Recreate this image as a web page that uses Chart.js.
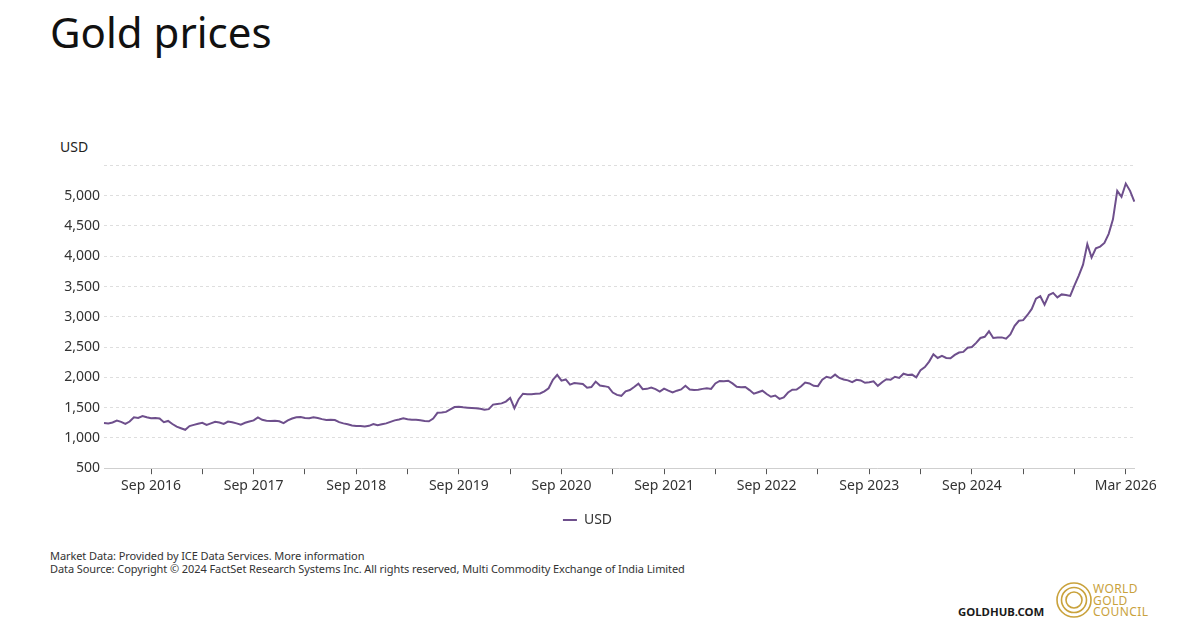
<!DOCTYPE html>
<html>
<head>
<meta charset="utf-8">
<title>Gold prices</title>
<script src="https://cdn.jsdelivr.net/npm/chart.js@4.4.1/dist/chart.umd.min.js"></script>
<style>
  html, body { margin: 0; padding: 0; background: #fff; }
  body { width: 1200px; height: 630px; position: relative; overflow: hidden;
         font-family: "Noto Sans", "Open Sans", sans-serif; color: #222; }
  h1 { position: absolute; left: 50px; top: 3px; margin: 0; font-weight: 400; font-size: 42px; color: #111; }
  #unit { position: absolute; left: 60px; top: 137px; font-size: 14px; color: #222; }
  #wrap { position: absolute; left: 40px; top: 153px; width: 1120px; height: 384px; }
  .note { position: absolute; left: 50px; font-size: 11px; color: #333; letter-spacing: -0.08px; white-space: nowrap; }
  #goldhub { position: absolute; left: 958px; top: 604px; font-size: 11.4px; font-weight: 700; color: #1a1a1a; }
  #wgc { position: absolute; left: 1055px; top: 581px; }
  #wgcText { position: absolute; left: 1093px; top: 583px; font-size: 12px; line-height: 11.5px; color: #c9a23c; letter-spacing: 0.4px; }
</style>
</head>
<body>
<h1>Gold prices</h1>
<div id="unit">USD</div>
<div id="wrap"><canvas id="goldChart"></canvas></div>
<div class="note" style="top:548px">Market Data: Provided by ICE Data Services. More information</div>
<div class="note" style="top:561px">Data Source: Copyright © 2024 FactSet Research Systems Inc. All rights reserved, Multi Commodity Exchange of India Limited</div>
<div id="goldhub">GOLDHUB.COM</div>
<svg id="wgc" width="38" height="38" viewBox="0 0 38 38">
  <g fill="none" stroke="#c9a23c" stroke-width="1.6">
    <circle cx="19" cy="19" r="17"></circle>
    <circle cx="19" cy="19" r="12.5"></circle>
    <circle cx="19" cy="19" r="8"></circle>
  </g>
</svg>
<div id="wgcText">WORLD<br>GOLD<br>COUNCIL</div>
<script>
// semi-monthly USD prices, first point mid-March 2016
const prices2016 = [1245, 1240, 1255, 1285, 1265, 1230, 1270, 1340, 1330, 1360, 1340, 1325, 1330, 1320, 1260, 1280, 1230, 1185, 1160];
const prices2017 = [1135, 1195, 1215, 1235, 1250, 1215, 1240, 1265, 1255, 1230, 1270, 1260, 1240, 1220, 1250, 1270, 1290, 1340, 1300, 1285, 1280, 1285, 1275, 1245];
const prices2018 = [1290, 1320, 1340, 1345, 1330, 1325, 1340, 1330, 1310, 1295, 1300, 1295, 1260, 1240, 1225, 1205, 1195, 1195, 1190, 1200, 1230, 1210, 1225, 1240];
const prices2019 = [1265, 1290, 1305, 1325, 1310, 1300, 1300, 1290, 1280, 1275, 1320, 1415, 1420, 1430, 1470, 1510, 1515, 1505, 1500, 1495, 1490, 1480, 1465, 1475];
const prices2020 = [1550, 1560, 1570, 1600, 1660, 1490, 1640, 1730, 1720, 1720, 1730, 1735, 1770, 1820, 1960, 2040, 1945, 1965, 1880, 1905, 1900, 1890, 1830, 1840];
const prices2021 = [1930, 1865, 1855, 1840, 1750, 1710, 1695, 1770, 1790, 1840, 1895, 1805, 1810, 1830, 1805, 1765, 1815, 1780, 1750, 1780, 1800, 1860, 1800, 1790];
const prices2022 = [1795, 1810, 1820, 1810, 1900, 1940, 1935, 1945, 1900, 1845, 1835, 1840, 1790, 1730, 1755, 1780, 1725, 1680, 1700, 1645, 1670, 1750, 1795, 1800];
const prices2023 = [1850, 1915, 1900, 1860, 1855, 1960, 2010, 1990, 2045, 1990, 1965, 1950, 1920, 1960, 1950, 1910, 1920, 1935, 1860, 1920, 1970, 1960, 2010, 1990];
const prices2024 = [2060, 2040, 2045, 2000, 2120, 2170, 2260, 2380, 2320, 2355, 2320, 2315, 2370, 2410, 2420, 2490, 2500, 2570, 2650, 2670, 2760, 2650, 2660, 2660];
const prices2025 = [2640, 2710, 2850, 2935, 2945, 3030, 3130, 3300, 3340, 3200, 3360, 3395, 3320, 3370, 3360, 3345, 3520, 3680, 3860, 4200, 3980, 4130, 4160, 4220];
const prices2026 = [4370, 4610, 5080, 4980, 5200, 5080, 4900];

const yTicks = [500, 1000, 1500, 2000, 2500, 3000, 3500, 4000, 4500, 5000];

const prices = [].concat(prices2016, prices2017, prices2018, prices2019, prices2020,
  prices2021, prices2022, prices2023, prices2024, prices2025, prices2026);

// date labels: the 1st and the 15th of each month
const dates = prices.map((_, i) => {
  const d = new Date(2016, 2 + Math.floor((i + 1) / 2), (i + 1) % 2 ? 15 : 1);
  return d.getFullYear() + '-' + String(d.getMonth() + 1).padStart(2, '0') + '-' + String(d.getDate()).padStart(2, '0');
});

const monthNames = ['Jan', 'Feb', 'Mar', 'Apr', 'May', 'Jun', 'Jul', 'Aug', 'Sep', 'Oct', 'Nov', 'Dec'];

function isHalfYear(label) {
  return label.endsWith('-03-01') || label.endsWith('-09-01');
}

function tickText(label) {
  const [y, m] = label.split('-');
  if ((m === '09' && +y <= 2024) || label === '2026-03-01') return monthNames[+m - 1] + ' ' + y;
  return '';
}

const ctx = document.getElementById('goldChart').getContext('2d');
new Chart(ctx, {
  type: 'line',
  data: {
    labels: dates,
    datasets: [{
      label: 'USD',
      data: prices,
      borderColor: '#6e4f8c',
      backgroundColor: '#6e4f8c',
      borderWidth: 2,
      pointRadius: 0,
      tension: 0
    }]
  },
  options: {
    responsive: true,
    maintainAspectRatio: false,
    animation: false,
    layout: { padding: { top: 10, right: 25, left: 0, bottom: 0 } },
    font: { family: '"Noto Sans", "Open Sans", sans-serif' },
    plugins: {
      legend: {
        position: 'bottom',
        labels: {
          usePointStyle: true,
          pointStyle: 'line',
          pointStyleWidth: 14,
          color: '#333',
          font: { size: 14, family: '"Noto Sans", sans-serif' },
          padding: 16
        }
      },
      tooltip: { enabled: false }
    },
    scales: {
      x: {
        type: 'category',
        offset: false,
        afterBuildTicks: axis => {
          axis.ticks = axis.ticks.filter(t => isHalfYear(dates[t.value]));
        },
        ticks: {
          autoSkip: false,
          maxRotation: 0,
          color: '#333',
          padding: 3,
          font: { size: 14, family: '"Noto Sans", sans-serif' },
          callback: function (value) { return tickText(this.getLabelForValue(value)); }
        },
        grid: { drawOnChartArea: false, drawTicks: true, tickLength: 6, tickColor: '#555' },
        border: { display: true, color: '#cfcfcf', width: 1 }
      },
      y: {
        min: 500,
        max: 5500,
        afterFit: axis => { axis.width = 64; },
        afterBuildTicks: axis => {
          axis.ticks = yTicks.concat([5500]).map(v => ({ value: v }));
        },
        ticks: {
          color: '#333',
          padding: 4,
          font: { size: 14, family: '"Noto Sans", sans-serif' },
          callback: v => (yTicks.includes(v) ? v.toLocaleString('en-US') : '')
        },
        grid: { color: '#dedede', drawTicks: false },
        border: { display: false, dash: [3, 3] }
      }
    }
  }
});
</script>
</body>
</html>
